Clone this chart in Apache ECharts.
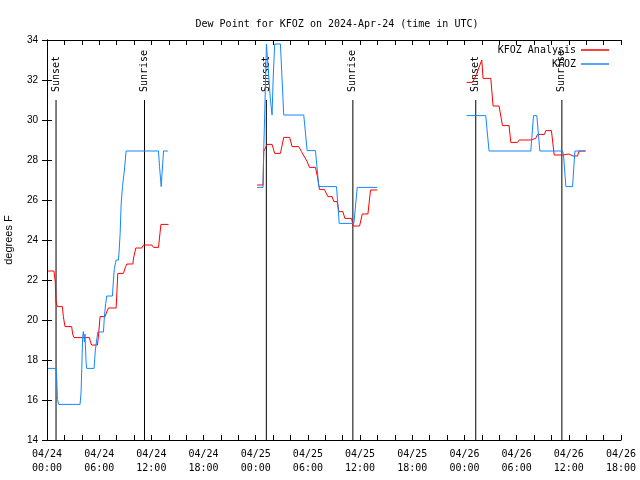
<!DOCTYPE html>
<html>
<head>
<meta charset="utf-8">
<script src="https://cdn.jsdelivr.net/npm/echarts@6/dist/echarts.min.js"></script>
<style>html,body{margin:0;padding:0;background:#fff}#c{width:640px;height:480px}</style>
</head>
<body>
<div id="c"></div>
<script>
// hours since 2024-04-24 00:00 UTC
const tickLabels = ['04/24\n00:00','04/24\n06:00','04/24\n12:00','04/24\n18:00','04/25\n00:00','04/25\n06:00','04/25\n12:00','04/25\n18:00','04/26\n00:00','04/26\n06:00','04/26\n12:00','04/26\n18:00'];

const analysisDay1 = [[0.12,22.45],[0.8,22.45],[0.95,21.9],[1.04,20.9],[1.19,20.67],[1.77,20.67],[1.88,20.17],[2.07,19.67],[2.84,19.67],[2.95,19.3],[3.11,19.12],[4.88,19.12],[5.0,18.9],[5.14,18.75],[5.8,18.75],[5.9,19.12],[6.1,20.17],[6.68,20.17],[6.87,20.4],[7.06,20.6],[7.95,20.6],[8.14,22.33],[8.79,22.33],[8.98,22.6],[9.18,22.8],[9.87,22.8],[9.95,23.1],[10.21,23.6],[10.9,23.6],[11.1,23.75],[12.06,23.75],[12.25,23.63],[12.82,23.63],[13.1,24.78],[13.97,24.78]];
const analysisDay2 = [[24.15,26.75],[24.84,26.75],[24.92,28.42],[25.3,28.78],[25.88,28.78],[26.18,28.33],[26.84,28.33],[27.22,29.13],[27.9,29.13],[28.18,28.67],[28.95,28.67],[29.26,28.42],[29.91,27.92],[30.18,27.63],[30.87,27.63],[31.13,27.08],[31.33,26.53],[31.9,26.53],[32.29,26.17],[32.79,26.17],[32.98,25.92],[33.37,25.92],[33.56,25.42],[34.02,25.42],[34.25,25.08],[35.02,25.08],[35.2,24.7],[35.94,24.7],[36.25,25.3],[36.9,25.3],[37.2,26.5],[37.97,26.5]];
const analysisDay3 = [[48.26,31.88],[48.92,31.88],[49.3,32.2],[49.65,32.6],[49.99,33.0],[50.14,32.08],[51.03,32.08],[51.29,30.7],[51.98,30.7],[52.37,29.72],[53.13,29.72],[53.33,28.88],[54.1,28.88],[54.29,29.0],[55.63,29.0],[55.8,29.08],[56.2,29.08],[56.4,29.28],[57.2,29.28],[57.36,29.47],[58.0,29.47],[58.32,28.25],[59.28,28.25],[59.4,28.35],[60.0,28.3],[60.5,28.2],[61.0,28.2],[61.18,28.45],[61.9,28.45]];

const obsDay1 = [[0.12,17.58],[1.0,17.58],[1.1,17.3],[1.2,16.03],[1.35,15.78],[3.8,15.78],[3.92,16.4],[4.0,17.58],[4.1,19.17],[4.18,19.42],[4.3,18.9],[4.37,19.3],[4.49,17.9],[4.57,17.58],[5.41,17.58],[5.56,18.5],[5.84,19.4],[6.49,19.4],[6.6,20.17],[6.75,20.83],[6.87,21.2],[7.52,21.2],[7.64,22.0],[7.75,22.58],[7.95,23.0],[8.22,23.0],[8.3,23.5],[8.41,24.33],[8.52,25.75],[8.68,26.67],[8.9,27.5],[9.1,28.45],[12.82,28.45],[12.94,27.67],[13.13,26.67],[13.4,28.45],[13.9,28.45]];
const obsDay2 = [[24.15,26.63],[24.84,26.63],[24.92,28.5],[25.03,30.25],[25.23,33.8],[25.4,33.8],[25.69,31.0],[25.88,30.25],[26.0,32.0],[26.18,33.8],[26.84,33.8],[27.22,30.25],[29.52,30.25],[29.91,28.47],[30.87,28.47],[31.25,26.67],[33.29,26.67],[33.6,24.83],[35.29,24.83],[35.67,26.63],[37.97,26.63]];
const obsDay3 = [[48.26,30.22],[50.45,30.22],[50.6,29.5],[50.83,28.45],[55.63,28.45],[55.94,30.22],[56.32,30.22],[56.67,28.45],[59.28,28.45],[59.4,28.2],[59.66,26.67],[60.43,26.67],[60.7,28.45],[61.97,28.45]];

const sunsetHours = [1.04, 25.22, 49.3];
const sunriseHours = [11.21, 35.17, 59.2];

const RED = '#ff0000';
const BLUE = '#1487ff';
const MONO = 'DejaVu Sans Mono';
const SANS = 'Liberation Sans';

const sunData = sunsetHours.map(h => [h, 'Sunset']).concat(sunriseHours.map(h => [h, 'Sunrise']));

function lineSeries(name, data, color) {
  return {
    name: name, type: 'line', data: data, symbol: 'none', showSymbol: false,
    lineStyle: {color: color, width: 1}, itemStyle: {color: color},
    animation: false, z: 3
  };
}

const legendBase = {right: 31, align: 'right', itemWidth: 28, itemHeight: 1.5, icon: 'rect',
  textStyle: {fontFamily: MONO, fontSize: 10, color: '#000'}, padding: 0};

const chart = echarts.init(document.getElementById('c'), null, {renderer: 'canvas'});
chart.setOption({
  backgroundColor: '#fff',
  animation: false,
  title: {
    text: 'Dew Point for KFOZ on 2024-Apr-24 (time in UTC)',
    left: 332, top: 14, textAlign: 'center',
    textStyle: {fontFamily: MONO, fontSize: 10, fontWeight: 'normal', color: '#000'}
  },
  grid: {left: 47, right: 19, top: 40, bottom: 40, containLabel: false, outerBoundsMode: 'none'},
  legend: [
    Object.assign({data: ['KFOZ Analysis'], top: 45}, legendBase),
    Object.assign({data: ['KFOZ'], top: 59}, legendBase)
  ],
  xAxis: [
    {type: 'value', min: 0, max: 66, interval: 2,
     axisLine: {show: true, lineStyle: {color: '#000', width: 1}},
     axisTick: {show: true, inside: true, length: 5, lineStyle: {color: '#000'}},
     splitLine: {show: false},
     axisLabel: {
       margin: 7, fontFamily: MONO, fontSize: 10, color: '#000', lineHeight: 14,
       formatter: v => (Math.round(v) % 6 === 0 ? tickLabels[Math.round(v) / 6] : '')
     }},
    {type: 'value', position: 'top', min: 0, max: 66, interval: 2,
     axisLine: {show: true, lineStyle: {color: '#000', width: 1}},
     axisTick: {show: true, inside: true, length: 5, lineStyle: {color: '#000'}},
     splitLine: {show: false}, axisLabel: {show: false}}
  ],
  yAxis: [
    {type: 'value', min: 14, max: 34, interval: 2,
     name: 'degrees F', nameLocation: 'middle', nameGap: 33, nameRotate: 90,
     nameTextStyle: {fontFamily: SANS, fontSize: 11, color: '#000'},
     axisLine: {show: true, lineStyle: {color: '#000', width: 1}},
     axisTick: {show: true, inside: true, length: 5, lineStyle: {color: '#000'}},
     splitLine: {show: false},
     axisLabel: {margin: 9, fontFamily: SANS, fontSize: 10, color: '#000'}},
    {type: 'value', position: 'right', min: 14, max: 34, interval: 2,
     axisLine: {show: true, lineStyle: {color: '#000', width: 1}},
     axisTick: {show: true, inside: true, length: 5, lineStyle: {color: '#000'}},
     splitLine: {show: false}, axisLabel: {show: false}}
  ],
  series: [
    {
      type: 'custom', name: 'sun', data: sunData, animation: false, z: 2, silent: true,
      encode: {x: 0},
      renderItem: function (params, api) {
        const h = api.value(0);
        const p0 = api.coord([h, 14]);
        const p1 = api.coord([h, 31]);
        return {
          type: 'group',
          children: [
            {type: 'line', shape: {x1: p0[0], y1: p0[1], x2: p1[0], y2: p1[1]},
             style: {stroke: '#000', lineWidth: 1}},
            {type: 'text', x: p1[0], y: p1[1] - 8, rotation: Math.PI / 2,
             style: {text: sunData[params.dataIndex][1], fontFamily: MONO, fontSize: 10,
                     fill: '#000', align: 'left', verticalAlign: 'middle'}}
          ]
        };
      }
    },
    lineSeries('KFOZ Analysis', analysisDay1, RED),
    lineSeries('KFOZ Analysis', analysisDay2, RED),
    lineSeries('KFOZ Analysis', analysisDay3, RED),
    lineSeries('KFOZ', obsDay1, BLUE),
    lineSeries('KFOZ', obsDay2, BLUE),
    lineSeries('KFOZ', obsDay3, BLUE)
  ]
});
</script>
</body>
</html>
